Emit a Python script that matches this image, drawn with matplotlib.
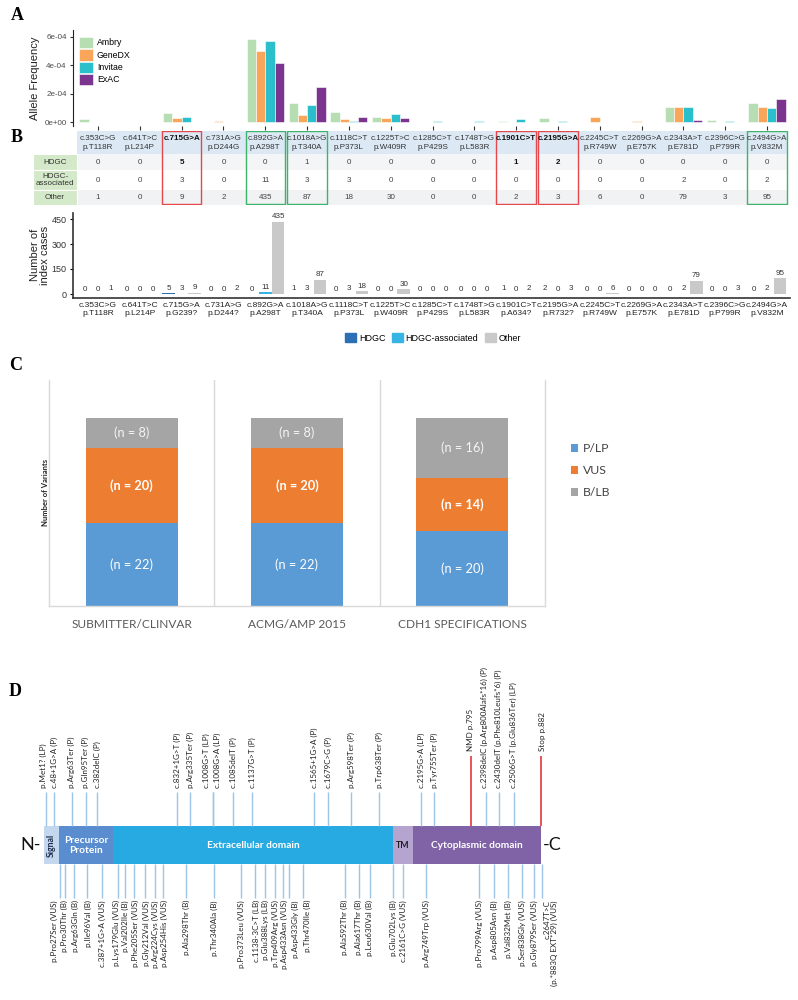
import numpy as np
import matplotlib
matplotlib.use('Agg')
import matplotlib.pyplot as plt
from matplotlib.patches import Patch, Rectangle

plt.rcParams['font.family'] = ['Liberation Sans', 'DejaVu Sans']

# ---------------- data: panels A / B ----------------
variants_c = ['c.353C>G', 'c.641T>C', 'c.715G>A', 'c.731A>G', 'c.892G>A', 'c.1018A>G',
              'c.1118C>T', 'c.1225T>C', 'c.1285C>T', 'c.1748T>G', 'c.1901C>T', 'c.2195G>A',
              'c.2245C>T', 'c.2269G>A', 'c.2343A>T', 'c.2396C>G', 'c.2494G>A']
variants_p = ['p.T118R', 'p.L214P', 'p.G239?', 'p.D244?', 'p.A298T', 'p.T340A', 'p.P373L',
              'p.W409R', 'p.P429S', 'p.L583R', 'p.A634?', 'p.R732?', 'p.R749W', 'p.E757K',
              'p.E781D', 'p.P799R', 'p.V832M']
table_p = ['p.T118R', 'p.L214P', '', 'p.D244G', 'p.A298T', 'p.T340A', 'p.P373L', 'p.W409R',
           'p.P429S', 'p.L583R', '', '', 'p.R749W', 'p.E757K', 'p.E781D', 'p.P799R', 'p.V832M']
bold_cols = [2, 10, 11]
red_cols = [2, 10, 11]
green_cols = [4, 5, 16]

# allele frequency, in units of 1e-4
freq_labels = ['Ambry', 'GeneDX', 'Invitae', 'ExAC']
ambry = [0.2, 0, 0.61, 0, 5.86, 1.32, 0.68, 0.37, 0, 0, 0.05, 0.28, 0, 0, 1.04, 0.16, 1.32]
genedx = [0, 0, 0.26, 0.1, 5.0, 0.49, 0.2, 0.26, 0, 0, 0, 0, 0.33, 0.1, 1.04, 0, 1.04]
invitae = [0, 0, 0.35, 0, 5.72, 1.22, 0.1, 0.54, 0.08, 0.07, 0.21, 0.07, 0, 0, 1.06, 0.06, 0.99]
exac = [0, 0, 0, 0, 4.14, 2.49, 0.33, 0.26, 0, 0, 0, 0, 0, 0, 0.14, 0, 1.64]
freq_colors = ['#b7ddb2', '#f9a65a', '#2bbfcb', '#7b358f']
freq_ticks = [0, 2e-4, 4e-4, 6e-4]
freq_ticklabels = ['0e+00', '2e-04', '4e-04', '6e-04']

case_labels = ['HDGC', 'HDGC-associated', 'Other']
hdgc = [0, 0, 5, 0, 0, 1, 0, 0, 0, 0, 1, 2, 0, 0, 0, 0, 0]
assoc = [0, 0, 3, 0, 11, 3, 3, 0, 0, 0, 0, 0, 0, 0, 2, 0, 2]
other = [1, 0, 9, 2, 435, 87, 18, 30, 0, 0, 2, 3, 6, 0, 79, 3, 95]
case_colors = ['#2d6fb7', '#36b5e5', '#c9c9c9']
row_names = ['HDGC', 'HDGC-\nassociated', 'Other']

# ---------------- data: panel C ----------------
schemes = ['SUBMITTER/CLINVAR', 'ACMG/AMP 2015', 'CDH1 SPECIFICATIONS']
class_labels = ['P/LP', 'VUS', 'B/LB']
plp = [22, 22, 20]
vus = [20, 20, 14]
blb = [8, 8, 16]
class_colors = ['#5b9bd5', '#ed7d31', '#a5a5a5']

# ---------------- data: panel D (schematic positions) ----------------
dom_names = ['Signal', 'Precursor\nProtein', 'Extracellular domain', 'TM', 'Cytoplasmic domain']
dom_edges = [44, 59, 113, 393, 413, 541]
dom_colors = ['#c3d8ef', '#5a8dd0', '#27aae1', '#b4a4cf', '#8063a6']
dom_text = ['#1f2d4a', 'white', 'white', '#1f1f1f', 'white']

top_labels = ['p.Met1? (LP)', 'c.48+1G>A (P)', 'p.Arg63Ter (P)', 'p.Gln95Ter (P)', 'c.382delC (P)',
              'c.832+1G>T (P)', 'p.Arg335Ter (P)', 'c.1008G>T (LP)', 'c.1008G>A (LP)',
              'c.1085delT (P)', 'c.1137G>T (P)', 'c.1565+1G>A (P)', 'c.1679C>G (P)',
              'p.Arg598Ter (P)', 'p.Trp638Ter (P)', 'c.2195G>A (LP)', 'p.Tyr755Ter (P)',
              'NMD p.795', 'c.2398delC (p.Arg800Alafs*16) (P)', 'c.2430delT (p.Phe810Leufs*6) (P)',
              'c.2506G>T (p.Glu836Ter) (LP)', 'Stop p.882']
top_text_x = [43, 54, 71, 85, 97, 177, 190, 206, 217, 233, 252, 314, 328, 351, 379,
              421, 434, 471, 484, 498, 513, 542]
top_line_x = [46, 54, 72, 86, 97, 177, 190, 213, 213, 233, 252, 314, 328, 351, 379,
              421, 434, 471, 486, 499, 514, 541]
red_markers = ['NMD p.795', 'Stop p.882']

bot_labels = ['p.Pro27Ser (VUS)', 'p.Pro30Thr (B)', 'p.Arg63Gln (B)', 'p.Ile96Val (B)',
              'c.387+1G>A (VUS)', 'p.Lys179Glu (VUS)', 'p.Val202Ile (B)', 'p.Phe205Ser (VUS)',
              'p.Gly212Val (VUS)', 'p.Arg224Cys (VUS)', 'p.Asp254His (VUS)', 'p.Ala298Thr (B)',
              'p.Thr340Ala (B)', 'p.Pro373Leu (VUS)', 'c.1138-3C>T (LB)', 'p.Glu388Lys (LB)',
              'p.Trp409Arg (VUS)', 'p.Asp433Asn (VUS)', 'p.Asp433Gly (B)', 'p.Thr470Ile (B)',
              'p.Ala592Thr (B)', 'p.Ala617Thr (B)', 'p.Leu630Val (B)', 'p.Glu702Lys (B)',
              'c.2161C>G (VUS)', 'p.Arg749Trp (VUS)', 'p.Pro799Arg (VUS)', 'p.Asp805Asn (B)',
              'p.Val832Met (B)', 'p.Ser838Gly (VUS)', 'p.Gly879Ser (VUS)',
              'c.2647T>C\n(p.*883Q EXT*29) (VUS)']
bot_text_x = [54.5, 64, 75, 88, 102, 116, 125.5, 135, 146, 155, 164, 186, 214, 241, 256, 265,
              275, 284, 295, 307, 344, 358, 369, 393, 403, 426, 479, 494, 508, 522, 534, 551]
bot_line_x = [60, 65, 74, 87, 102, 118, 125, 134, 145, 155, 163, 186, 214, 241, 255, 265,
              275, 283, 289, 303, 345, 359, 370, 393, 403, 426, 479, 494, 508, 522, 534, 542]

# ---------------- figure ----------------
W, H = 798, 1000
fig = plt.figure(figsize=(W / 100, H / 100), dpi=100)


def box(l, t, r, b):
    return [l / W, 1 - b / H, (r - l) / W, (b - t) / H]


idx = np.arange(len(variants_c))
XL = (-0.598, 16.55)
FS_TAB = 5.8

# ---- A: allele frequency ----
axA = fig.add_axes(box(73, 30, 790, 126))
bw = 0.222
for k, (vals, col, lab) in enumerate(zip([ambry, genedx, invitae, exac], freq_colors, freq_labels)):
    axA.bar(idx + (k - 1.5) * bw, np.array(vals) * 1e-4, width=bw, color=col,
            edgecolor='white', linewidth=0.4, label=lab)
axA.set_xlim(*XL)
axA.set_ylim(-0.28e-4, 6.49e-4)
axA.set_yticks(freq_ticks)
axA.set_yticklabels(freq_ticklabels)
axA.set_xticks(idx)
axA.set_xticklabels([])
axA.tick_params(axis='y', labelsize=5.8, colors='#333', length=2.5, pad=2, labelcolor='#4d4d4d')
axA.tick_params(axis='x', length=3, colors='#333')
for s in ['top', 'right', 'bottom']:
    axA.spines[s].set_visible(False)
axA.spines['left'].set_color('#222')
axA.legend(loc='upper left', bbox_to_anchor=(79 / W, 1 - 37 / H), bbox_transform=fig.transFigure,
           frameon=False, fontsize=6.3, handlelength=1.6, handleheight=1.6, labelspacing=0.12,
           handletextpad=0.45, borderpad=0, borderaxespad=0)
fig.text(35 / W, 1 - 78 / H, 'Allele Frequency', rotation=90, ha='center', va='center',
         fontsize=8, color='#222')

# ---- B: table ----
axT = fig.add_axes(box(33, 131, 790, 205))
axT.set_xlim(-1.555, XL[1])
axT.set_ylim(74, 0)
axT.axis('off')
row_edges = [0, 23, 39, 59, 74]
axT.add_patch(Rectangle((-0.5, row_edges[0]), len(idx), row_edges[1], color='#dce9f5', lw=0))
for r, bg in enumerate(['#f4f5f7', 'white', '#f1f2f4']):
    y0, y1 = row_edges[r + 1], row_edges[r + 2]
    axT.add_patch(Rectangle((-0.5, y0), len(idx), y1 - y0, color=bg, lw=0))
    axT.add_patch(Rectangle((-1.555, y0), 1.055, y1 - y0, facecolor='#d4e9c9',
                            edgecolor='white', lw=0.8))
    axT.text(-1.03, (y0 + y1) / 2, row_names[r], ha='center', va='center', fontsize=FS_TAB,
             color='#333', linespacing=1.15)
for i in idx:
    if i in bold_cols:
        axT.text(i, 7.3, variants_c[i], ha='center', va='center', fontsize=FS_TAB,
                 fontweight='bold', color='#111')
    else:
        axT.text(i, 7.3, variants_c[i], ha='center', va='center', fontsize=FS_TAB, color='#333')
        axT.text(i, 16.3, table_p[i], ha='center', va='center', fontsize=FS_TAB, color='#333')
    for r, vals in enumerate([hdgc, assoc, other]):
        y = (row_edges[r + 1] + row_edges[r + 2]) / 2
        fw = 'bold' if (r == 0 and i in bold_cols) else 'normal'
        axT.text(i, y, str(vals[i]), ha='center', va='center', fontsize=FS_TAB,
                 color='#111' if fw == 'bold' else '#444', fontweight=fw)
for i in red_cols:
    axT.add_patch(Rectangle((i - 0.47, 0.3), 0.94, 73.2, fill=False, edgecolor='#e4474c', lw=1))
for i in green_cols:
    axT.add_patch(Rectangle((i - 0.47, 0.3), 0.94, 73.2, fill=False, edgecolor='#3db36b', lw=1))

# ---- B: index cases ----
axB = fig.add_axes(box(73, 213, 790, 298))
for k, (vals, col, lab) in enumerate(zip([hdgc, assoc, other], case_colors, case_labels)):
    bars = axB.bar(idx + (k - 1) * 0.31, vals, width=0.3, color=col, label=lab)
    axB.bar_label(bars, labels=[str(v) for v in vals], padding=1, fontsize=5.8, color='#333')
axB.set_xlim(*XL)
axB.set_ylim(-24, 486)
axB.set_yticks([0, 150, 300, 450])
axB.set_xticks(idx)
axB.set_xticklabels([f'{c}\n{p}' for c, p in zip(variants_c, variants_p)], linespacing=1.1)
axB.tick_params(axis='x', length=0, pad=3, labelsize=6, labelcolor='#222')
axB.tick_params(axis='y', length=2.5, pad=2, labelsize=6.5, labelcolor='#333')
for s in ['top', 'right']:
    axB.spines[s].set_visible(False)
for s in ['left', 'bottom']:
    axB.spines[s].set_color('#333')
    axB.spines[s].set_linewidth(1.2)
fig.text(40 / W, 1 - 255 / H, 'Number of\nindex cases', rotation=90, ha='center', va='center',
         fontsize=8, color='#222', linespacing=1.0)
fig.legend(handles=[Patch(color=c) for c in case_colors], labels=case_labels, ncol=3,
           loc='center', bbox_to_anchor=(433 / W, 1 - 338 / H), frameon=False, fontsize=6.5,
           handlelength=1.2, handleheight=1.2, columnspacing=0.7, handletextpad=0.35)

# ---- C: classification ----
lato = ['Lato', 'DejaVu Sans']
axC = fig.add_axes(box(49, 380, 545, 606))
xc = np.arange(len(schemes))
bottom = np.zeros(len(schemes))
txt_style = [dict(color='white', fontweight='normal'), dict(color='white', fontweight='bold'),
             dict(color='#f4f4f4', fontweight='normal')]
for vals, col, lab, st in zip([plp, vus, blb], class_colors, class_labels, txt_style):
    bars = axC.bar(xc, vals, bottom=bottom, width=0.558, color=col, label=lab)
    axC.bar_label(bars, labels=[f'(n = {v})' for v in vals], label_type='center',
                  fontsize=9.2, family=lato, **st)
    bottom += np.array(vals)
axC.set_xlim(-0.5, 2.5)
axC.set_ylim(0, 60)
for xv in [0.5, 1.5]:
    axC.axvline(xv, color='#d9d9d9', lw=1)
axC.spines['top'].set_visible(False)
for s in ['left', 'right', 'bottom']:
    axC.spines[s].set_color('#d9d9d9')
    axC.spines[s].set_linewidth(1)
axC.set_yticks([])
axC.set_xticks(xc)
axC.set_xticklabels(schemes, fontsize=8.6, color='#595959', family=lato)
axC.tick_params(axis='x', length=0, pad=9)
fig.text(45 / W, 1 - 492 / H, 'Number of Variants', rotation=90, ha='center', va='center',
         fontsize=5.5, fontweight='bold', family=lato, color='#222')
axC.legend(loc='center left', bbox_to_anchor=(560 / W, 1 - 471 / H), bbox_transform=fig.transFigure,
           frameon=False, prop={'family': lato, 'size': 8.8},
           handlelength=0.55, handleheight=0.65, labelspacing=0.9, handletextpad=0.4, labelcolor='#444')

# ---- D: protein schematic ----
axD = fig.add_axes([0, 0, 1, 0.35])
axD.set_xlim(0, W)
axD.set_ylim(1000, 650)
axD.axis('off')
bar_top, bar_bot = 826, 864
lefts = dom_edges[:-1]
widths = np.diff(dom_edges)
axD.barh((bar_top + bar_bot) / 2, widths, left=lefts, height=bar_bot - bar_top,
         color=dom_colors, linewidth=0)
for name, l, w, tc in zip(dom_names, lefts, widths, dom_text):
    rot = 90 if name == 'Signal' else 0
    fs = 6.3 if name in ('Signal', 'TM') else 7.3
    axD.text(l + w / 2, (bar_top + bar_bot) / 2 + 0.5, name, ha='center', va='center', rotation=rot,
             color=tc, fontsize=fs, fontweight='bold', family=lato, linespacing=1.25)
axD.text(dom_edges[0] - 3, (bar_top + bar_bot) / 2, 'N-', ha='right', va='center', fontsize=13,
         family=lato, color='#111')
axD.text(dom_edges[-1] + 1.5, (bar_top + bar_bot) / 2, '-C', ha='left', va='center', fontsize=13,
         family=lato, color='#111')

FS_D = 5.8
for lab, tx, lx in zip(top_labels, top_text_x, top_line_x):
    if lab in red_markers:
        axD.vlines(lx, 756, bar_top, color='#e0282b', lw=1.1)
        axD.text(tx, 751, lab, rotation=90, ha='center', va='bottom', fontsize=FS_D,
                 family=lato, color='#222')
    else:
        axD.vlines(lx, 792, bar_top, color='#9dc3e6', lw=1)
        axD.text(tx, 788, lab, rotation=90, ha='center', va='bottom', fontsize=FS_D,
                 family=lato, color='#222')
for lab, tx, lx in zip(bot_labels, bot_text_x, bot_line_x):
    axD.vlines(lx, bar_bot, 898, color='#9dc3e6', lw=1)
    axD.text(tx, 900, lab, rotation=90, ha='center', va='top', fontsize=FS_D, family=lato,
             color='#222', multialignment='right', linespacing=1.1)

# ---- panel letters ----
for letter, (px, py) in zip('ABCD', [(17, 15), (17, 138), (16, 366), (15, 692)]):
    fig.text(px / W, 1 - py / H, letter, ha='center', va='center', fontsize=13,
             fontweight='bold', family=['Liberation Serif', 'DejaVu Serif'])

fig.savefig('out.png', dpi=100)
